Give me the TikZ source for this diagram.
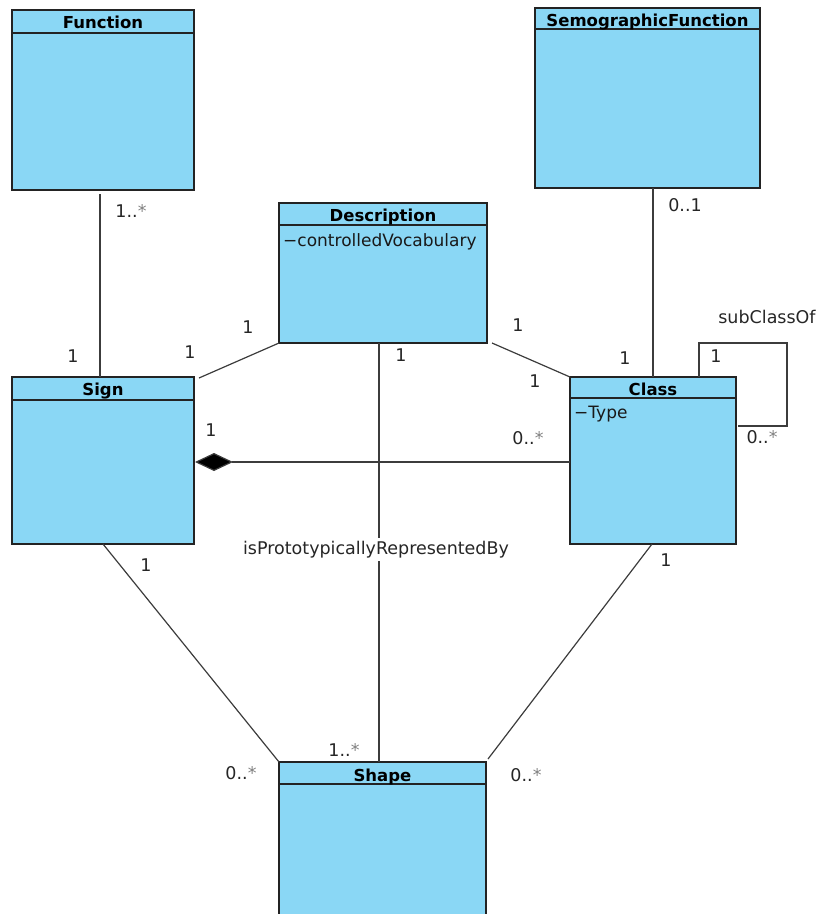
\documentclass[tikz,border=0pt]{standalone}
\usepackage{fontspec}
\setmainfont{DejaVu Sans}
\usetikzlibrary{calc,arrows.meta}
\definecolor{boxblue}{RGB}{138,215,245}
\definecolor{linegray}{RGB}{60,60,60}
\definecolor{boxline}{RGB}{35,35,35}
\tikzset{
  classbox/.style={draw=boxline, fill=boxblue, line width=1.2pt, anchor=north west, inner sep=0pt, outer sep=0pt},
  headtxt/.style={font=\bfseries\fontsize{16.5}{18}\selectfont, inner sep=0pt, anchor=base},
  attrtxt/.style={font=\fontsize{17}{19}\selectfont, inner sep=0pt, anchor=base west, text=black!90},
  mult/.style={font=\fontsize{17.5}{19}\selectfont, inner sep=0pt, text=black!85},
  assoc/.style={draw=linegray, line width=1.2pt},
  headline/.style={draw=boxline, line width=1.4pt},
}
\newcommand{\many}{{\color{gray}*}}
\begin{document}
\begin{tikzpicture}[x=1pt,y=-1pt]
\useasboundingbox (0,0) rectangle (818,914);
\clip (0,0) rectangle (818,914);
% class boxes
\node[classbox, minimum width=182pt, minimum height=180pt] (function) at (12,10) {};
\node[classbox, minimum width=225pt, minimum height=180pt] (semo) at (535,8) {};
\node[classbox, minimum width=208pt, minimum height=140pt] (desc) at (279,203) {};
\node[classbox, minimum width=182pt, minimum height=167pt] (sign) at (12,377) {};
\node[classbox, minimum width=166pt, minimum height=167pt] (class) at (570,377) {};
\node[classbox, minimum width=207pt, minimum height=170pt] (shape) at (279,762) {};
% header separators
\draw[headline] ($(function.north west)+(0,23)$) -- ($(function.north east)+(0,23)$);
\draw[headline] ($(semo.north west)+(0,21)$) -- ($(semo.north east)+(0,21)$);
\draw[headline] ($(desc.north west)+(0,22)$) -- ($(desc.north east)+(0,22)$);
\draw[headline] ($(sign.north west)+(0,23)$) -- ($(sign.north east)+(0,23)$);
\draw[headline] ($(class.north west)+(0,21)$) -- ($(class.north east)+(0,21)$);
\draw[headline] ($(shape.north west)+(0,22)$) -- ($(shape.north east)+(0,22)$);
% titles
\node[headtxt] (functiont) at ($(function.north)+(0,18)$) {Function};
\node[headtxt] (semot) at ($(semo.north)+(0,18)$) {SemographicFunction};
\node[headtxt] (desct) at ($(desc.north)+(0,18)$) {Description};
\node[headtxt] (signt) at ($(sign.north)+(0,18)$) {Sign};
\node[headtxt] (classt) at ($(class.north)+(0,18)$) {Class};
\node[headtxt] (shapet) at ($(shape.north)+(0,19)$) {Shape};
% attributes
\node[attrtxt] (desca) at ($(desc.north west)+(4,43)$) {−controlledVocabulary};
\node[attrtxt] (classa) at ($(class.north west)+(4,41)$) {−Type};
% connectors
\draw[assoc] ($(function.south west)+(88,4)$) -- ($(sign.north west)+(88,0)$);
\draw[assoc] ($(semo.south west)+(118,0)$) -- ($(class.north west)+(83,0)$);
\draw[assoc] (desc.south west) -- ($(sign.north east)+(5,1)$);
\draw[assoc] ($(desc.south east)+(5,0)$) -- (class.north west);
\draw[assoc] ($(desc.south west)+(100,0)$) -- ($(shape.north west)+(100,0)$);
\node[mult, fill=white, inner sep=3pt] (proto) at ($(desc.south west)!0.5!(shape.north west)+(97,-3)$) {isPrototypicallyRepresentedBy};
\draw[assoc, {Diamond[length=38pt,width=18pt,fill=black]}-] ($(sign.north east)+(1,85)$) -- ($(class.north west)+(0,85)$);
\draw[assoc] ($(sign.south west)+(91,0)$) -- (shape.north west);
\draw[assoc] ($(class.south west)+(82,0)$) -- ($(shape.north east)+(2,-3)$);
\draw[assoc] ($(class.north west)+(129,0)$) -- ++(0,-34) -| ($(class.north east)+(51,49)$) -- ($(class.north east)+(2,49)$);
% multiplicities
\node[mult] (m1) at (131,211) {1..\many};
\node[mult] (m2) at (73,356) {1};
\node[mult] (m3) at (685,205) {0..1};
\node[mult] (m4) at (625,358) {1};
\node[mult] (m5) at (248,327) {1};
\node[mult] (m6) at (190,352) {1};
\node[mult] (m7) at (401,355) {1};
\node[mult] (m8) at (518,325) {1};
\node[mult] (m9) at (535,381) {1};
\node[mult] (m10) at (211,430) {1};
\node[mult] (m11) at (528,438) {0..\many};
\node[mult] (m12) at (716,356) {1};
\node[mult] (m13) at (762,437) {0..\many};
\node[mult] (m14) at (767,317) {subClassOf};
\node[mult] (m15) at (146,565) {1};
\node[mult] (m16) at (666,560) {1};
\node[mult] (m17) at (344,750) {1..\many};
\node[mult] (m18) at (241,773) {0..\many};
\node[mult] (m19) at (526,775) {0..\many};
\end{tikzpicture}
\end{document}
